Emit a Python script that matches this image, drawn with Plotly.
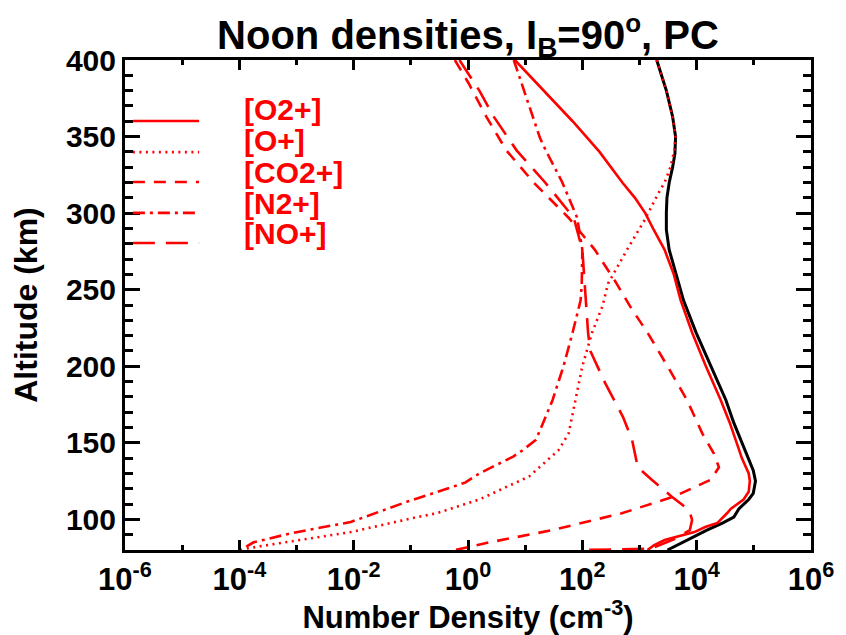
import plotly.graph_objects as go

# ---------------- data ----------------
# Total ion density (black)
total_alt = [400, 380, 363, 350, 339, 330, 320, 310, 300, 289, 276, 258, 243, 222, 200,
             178, 163, 150, 143, 132, 125, 117, 113, 107, 101.5, 97.6, 93, 88.5, 84, 80]
total_den = [2.0e3, 2.95e3, 3.8e3, 4.27e3, 4.17e3, 3.8e3, 3.31e3, 3.02e3, 2.95e3, 2.95e3,
             3.31e3, 4.47e3, 5.89e3, 9.77e3, 1.78e4, 3.24e4, 4.47e4, 6.17e4, 7.41e4, 9.77e4,
             1.07e5, 9.77e4, 8.13e4, 5.5e4, 4.47e4, 2.82e4, 1.51e4, 8.9e3, 5.25e3, 3.09e3]

# [O2+]
o2p_alt = [400, 380, 360, 340, 330, 320, 310, 300, 289, 276, 260, 243, 222, 200, 178, 163,
           150, 140, 130, 125, 118, 113, 107, 104, 97.6, 95, 91.7, 86.5, 83, 80]
o2p_den = [6.6, 20.9, 67.6, 200, 316, 501, 832, 1.26e3, 1.78e3, 2.75e3, 3.98e3, 5.25e3,
           8.32e3, 1.45e4, 2.63e4, 3.8e4, 5.01e4, 6.17e4, 8.13e4, 8.51e4, 8.13e4, 6.61e4,
           3.98e4, 3.39e4, 2.29e4, 1.41e4, 9.12e3, 2.75e3, 1.78e3, 1.38e3]

# [O+]
op_alt = [400, 380, 363, 350, 341, 330, 320, 313, 295.5, 276, 254, 239, 222, 200, 178, 156,
          145, 128, 113, 104, 101.5, 91.7, 85, 81, 80]
op_den = [2.0e3, 2.95e3, 3.8e3, 4.27e3, 4.07e3, 3.47e3, 2.75e3, 2.14e3, 1.23e3, 603, 282,
          224, 148, 100, 75.9, 57.5, 38.0, 11.7, 1.58, 0.282, 0.129, 8.9e-3, 6.3e-4,
          1.35e-4, 1.2e-4]

# [CO2+]
co2p_alt = [400, 385, 363, 341, 320, 297, 276, 254, 237, 222, 200, 178, 156, 143, 134, 126,
            115, 104, 93, 84.6, 80]
co2p_den = [0.589, 1.02, 2.09, 4.68, 14.1, 57.5, 166, 398, 741, 1.38e3, 3.09e3, 6.76e3,
            1.26e4, 2.0e4, 2.45e4, 1.78e4, 4.07e3, 490, 30.2, 2.09, 0.603]

# [N2+]
n2p_alt = [400, 380, 363, 349, 341, 320, 297, 276, 254, 243, 222, 200, 178, 152, 145, 141,
           130, 124, 119, 111.5, 98.3, 91, 85, 80]
n2p_den = [6.31, 9.55, 13.5, 18.2, 22.9, 44.7, 81.3, 100, 97.7, 93.3, 67.6, 46.8, 30.2,
           15.5, 8.91, 6.17, 1.58, 0.891, 0.355, 0.0851, 8.91e-3, 8.13e-4, 1.78e-4, 1.05e-4]

# [NO+]
nop_alt = [400, 380, 363, 341, 320, 297, 276, 254, 243, 222, 210, 189, 167, 152, 134, 126,
           115, 106, 99.6, 93, 87, 82, 80.8, 80]
nop_den = [0.708, 1.58, 2.82, 7.08, 22.4, 70.8, 100, 110, 117, 126, 138, 251, 513, 741, 933,
           1.62e3, 3.63e3, 7.41e3, 8.32e3, 7.59e3, 3.98e3, 2.0e3, 1.58e3, 105]

species = ["[O2+]", "[O+]", "[CO2+]", "[N2+]", "[NO+]"]
x_tickvals = [1e-6, 1e-4, 1e-2, 1e0, 1e2, 1e4, 1e6]
x_ticktext = ["10<sup>-6</sup>", "10<sup>-4</sup>", "10<sup>-2</sup>", "10<sup>0</sup>",
              "10<sup>2</sup>", "10<sup>4</sup>", "10<sup>6</sup>"]
x_minor = [1e-5, 1e-3, 1e-1, 1e1, 1e3, 1e5]
y_tickvals = [100, 150, 200, 250, 300, 350, 400]

# ---------------- styles ----------------
RED = "#ff0000"
FONT = "Liberation Sans, Arial, sans-serif"
dashes = ["solid", "2px,4.5px", "12px,9px", "12px,5px,3px,5px", "22px,11px"]
series = [(o2p_den, o2p_alt), (op_den, op_alt), (co2p_den, co2p_alt),
          (n2p_den, n2p_alt), (nop_den, nop_alt)]

# page body has an 8px default margin: figure is 838x627 placed at (8, 8)
W, H = 838, 627

fig = go.Figure()
fig.add_trace(go.Scatter(x=total_den, y=total_alt, mode="lines",
                         line=dict(color="black", width=3), showlegend=False))
for (xd, yd), dash, name in zip(series, dashes, species):
    fig.add_trace(go.Scatter(x=xd, y=yd, mode="lines", name=name,
                             line=dict(color=RED, width=2.6, dash=dash),
                             showlegend=False))

# hand-made legend (line samples on the left, labels to the right)
leg_line_y = [0.8755, 0.812, 0.751, 0.688, 0.6265]
leg_text_y = [0.898, 0.836, 0.771, 0.708, 0.646]
for name, dash, ly, ty in zip(species, dashes, leg_line_y, leg_text_y):
    fig.add_shape(type="line", xref="paper", yref="paper", x0=0.0115, x1=0.108,
                  y0=ly, y1=ly, line=dict(color=RED, width=2.6, dash=dash))
    fig.add_annotation(xref="paper", yref="paper", x=0.170, y=ty, xanchor="left",
                       yanchor="middle", text=name, showarrow=False,
                       font=dict(family=FONT, size=30, color=RED, weight="bold"))

axis_common = dict(showline=True, linecolor="black", linewidth=3, mirror="allticks",
                   ticks="inside", tickcolor="black", tickwidth=3, showgrid=False,
                   zeroline=False)

fig.update_xaxes(type="log", range=[-6, 6], tickmode="array", tickvals=x_tickvals,
                 ticktext=x_ticktext, ticklen=10,
                 tickfont=dict(family=FONT, size=31, color="black", weight="bold"),
                 minor=dict(tickmode="array", tickvals=x_minor, ticklen=5, tickwidth=3,
                            tickcolor="black", ticks="inside", showgrid=False),
                 title=dict(text="Number Density (cm<sup>-3</sup>)", standoff=0,
                            font=dict(family=FONT, size=31, color="black", weight="bold")),
                 **axis_common)
fig.update_yaxes(range=[80, 400], tickmode="array", tickvals=y_tickvals, ticklen=15,
                 tickfont=dict(family=FONT, size=30, color="black", weight="bold"),
                 minor=dict(dtick=10, tick0=0, ticklen=8, tickwidth=3, tickcolor="black",
                            ticks="inside", showgrid=False),
                 title=dict(text="Altitude (km)", standoff=20,
                            font=dict(family=FONT, size=32, color="black", weight="bold")),
                 **axis_common)

fig.update_layout(
    width=W, height=H,
    margin=dict(l=117, r=28, t=52, b=85),
    paper_bgcolor="white", plot_bgcolor="white",
    title=dict(text="Noon densities, I<sub>B</sub>=90"
                    "<sup><span style='font-size:26px'>o</span></sup>, PC",
               x=0.5, xref="paper", xanchor="center",
               y=1 - 27 / H, yref="container", yanchor="middle",
               font=dict(family=FONT, size=40, color="black", weight="bold")),
    showlegend=False,
)

fig.write_html("out.html")
